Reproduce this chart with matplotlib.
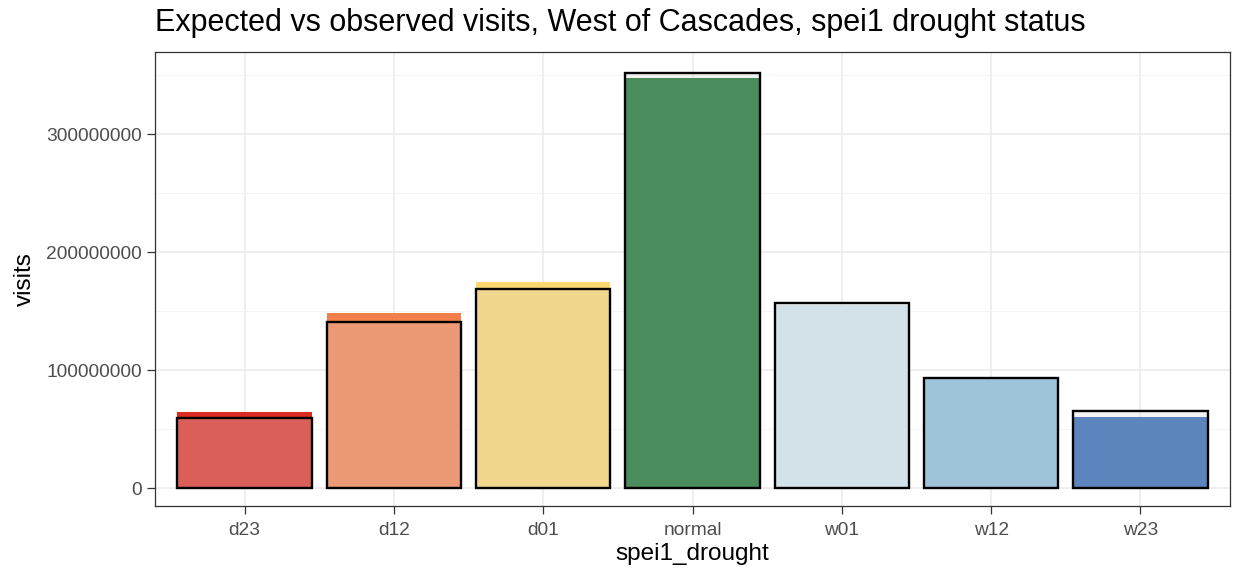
import matplotlib
matplotlib.use("Agg")
import matplotlib.pyplot as plt
from matplotlib.ticker import MultipleLocator, FuncFormatter

plt.rcParams['font.family'] = ['Liberation Sans', 'DejaVu Sans']

categories = ["d23", "d12", "d01", "normal", "w01", "w12", "w23"]
observed = [64.0e6, 147.9e6, 175.0e6, 347.5e6, 155.0e6, 92.5e6, 60.4e6]
expected = [59.7e6, 140.7e6, 168.6e6, 352.0e6, 156.8e6, 93.0e6, 65.3e6]
fill_colors = ["#dc2b22", "#f3804a", "#fcd66e", "#0d6b27", "#d1e7ef", "#86bad9", "#2761b1"]

fig = plt.figure(figsize=(12.36, 5.73), dpi=100)
ax = fig.add_axes([155 / 1236, 1 - 506 / 573, 1075 / 1236, (506 - 52) / 573])

x = list(range(len(categories)))

ax.bar(x, observed, width=0.9, color=fill_colors, linewidth=0, zorder=2)
ax.bar(x, expected, width=0.9, facecolor=(0.85, 0.85, 0.85, 0.3),
       edgecolor="black", linewidth=1.7, zorder=3)

ax.set_xlim(-0.6, 6.6)
ax.set_ylim(-15.25e6, 369.5e6)
ax.set_xticks(x)
ax.set_xticklabels(categories)
ax.yaxis.set_major_locator(MultipleLocator(100e6))
ax.yaxis.set_minor_locator(MultipleLocator(50e6))
ax.yaxis.set_major_formatter(FuncFormatter(lambda v, p: f"{int(round(v))}"))

ax.grid(which="major", color="#ebebeb", linewidth=1.1, zorder=0)
ax.grid(which="minor", axis="y", color="#f2f2f2", linewidth=0.6, zorder=0)
ax.set_axisbelow(True)

for s in ax.spines.values():
    s.set_color("#333333")
    s.set_linewidth(0.9)

ax.tick_params(axis="both", which="major", length=5.5, width=0.9, color="#333333",
               labelcolor="#4d4d4d", labelsize=13.8)
ax.tick_params(axis="y", which="major", pad=4)
ax.tick_params(axis="x", which="major", pad=6)
ax.tick_params(axis="both", which="minor", length=0)

ax.set_xlabel("spei1_drought", fontsize=17.5, color="black", labelpad=3)
ax.set_ylabel("visits", fontsize=17.5, color="black", labelpad=7)

fig.text(155 / 1236, 1 - 23 / 573, "Expected vs observed visits, West of Cascades, spei1 drought status",
         fontsize=22, ha="left", va="center", color="black")

fig.savefig("out.png", dpi=100)
